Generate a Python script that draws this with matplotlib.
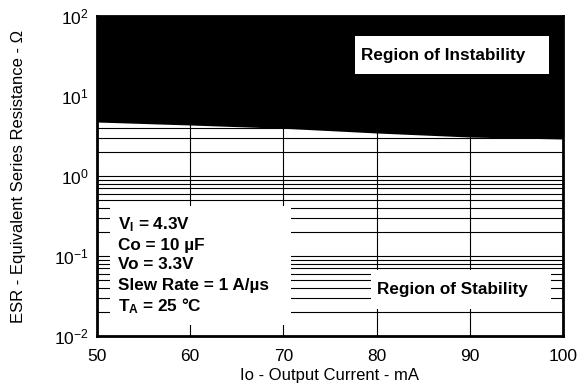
import matplotlib
matplotlib.use("Agg")
import matplotlib.pyplot as plt
from matplotlib.patches import Rectangle
import numpy as np

plt.rcParams['font.family'] = ['Liberation Sans', 'DejaVu Sans']
plt.rcParams['mathtext.fontset'] = 'custom'
plt.rcParams['mathtext.rm'] = 'Liberation Sans'
plt.rcParams['mathtext.bf'] = 'Liberation Sans:bold'
plt.rcParams['axes.unicode_minus'] = False

# stability boundary
current_ma = [50, 60, 70, 80, 90, 100]
esr_limit = [4.73, 4.34, 3.95, 3.45, 3.07, 2.9]

x_ticks = [50, 60, 70, 80, 90, 100]
conditions = [r"$\mathbf{V_I}$ = 4.3V", "Co = 10 µF", "Vo = 3.3V",
              "Slew Rate = 1 A/µs", r"$\mathbf{T_A}$ = 25 °C"]

fig = plt.figure(figsize=(5.85, 3.83), dpi=100)
ax = fig.add_axes([0.166, 0.1227, 0.796, 0.8355])
ax.set_yscale("log")
ax.set_xlim(50, 100)
ax.set_ylim(0.01, 100)

# grid lines under the black region
for dec in [0.01, 0.1, 1, 10]:
    for m in range(1, 10):
        ax.axhline(dec * m, color="black", lw=0.8, zorder=1)
for xv in x_ticks[1:-1]:
    ax.axvline(xv, color="black", lw=0.8, zorder=1)

ax.fill_between(current_ma, esr_limit, 100, color="black", lw=0, zorder=2)

# white boxes
boxes = [(0.028, 0.034, 0.388, 0.372), (0.588, 0.084, 0.386, 0.122),
         (0.554, 0.819, 0.416, 0.119)]
for bx, by, bw, bh in boxes:
    ax.add_patch(Rectangle((bx, by), bw, bh, transform=ax.transAxes,
                           facecolor="white", edgecolor="none", zorder=3))

ax.text(0.742, 0.878, "Region of Instability", transform=ax.transAxes,
        ha="center", va="center", fontsize=12.3, fontweight="bold", zorder=4)
ax.text(0.764, 0.144, "Region of Stability", transform=ax.transAxes,
        ha="center", va="center", fontsize=12.3, fontweight="bold", zorder=4)
ys = [0.347, 0.284, 0.222, 0.159, 0.094]
for t, yy in zip(conditions, ys):
    ax.text(0.045, yy, t, transform=ax.transAxes, ha="left", va="center",
            fontsize=12.3, fontweight="bold", zorder=4)

ax.set_xticks(x_ticks)
ax.set_yticks([0.01, 0.1, 1, 10, 100])
ax.yaxis.set_minor_locator(matplotlib.ticker.NullLocator())
ax.tick_params(length=0, labelsize=12.5, pad=6)
ax.tick_params(axis="x", pad=9)
for s in ax.spines.values():
    s.set_linewidth(2)
    s.set_zorder(5)

ax.set_xlabel("Io - Output Current - mA", fontsize=12, labelpad=3)
ax.set_ylabel("ESR - Equivalent Series Resistance - Ω", fontsize=12, labelpad=20)

fig.savefig("out.png", dpi=100)
